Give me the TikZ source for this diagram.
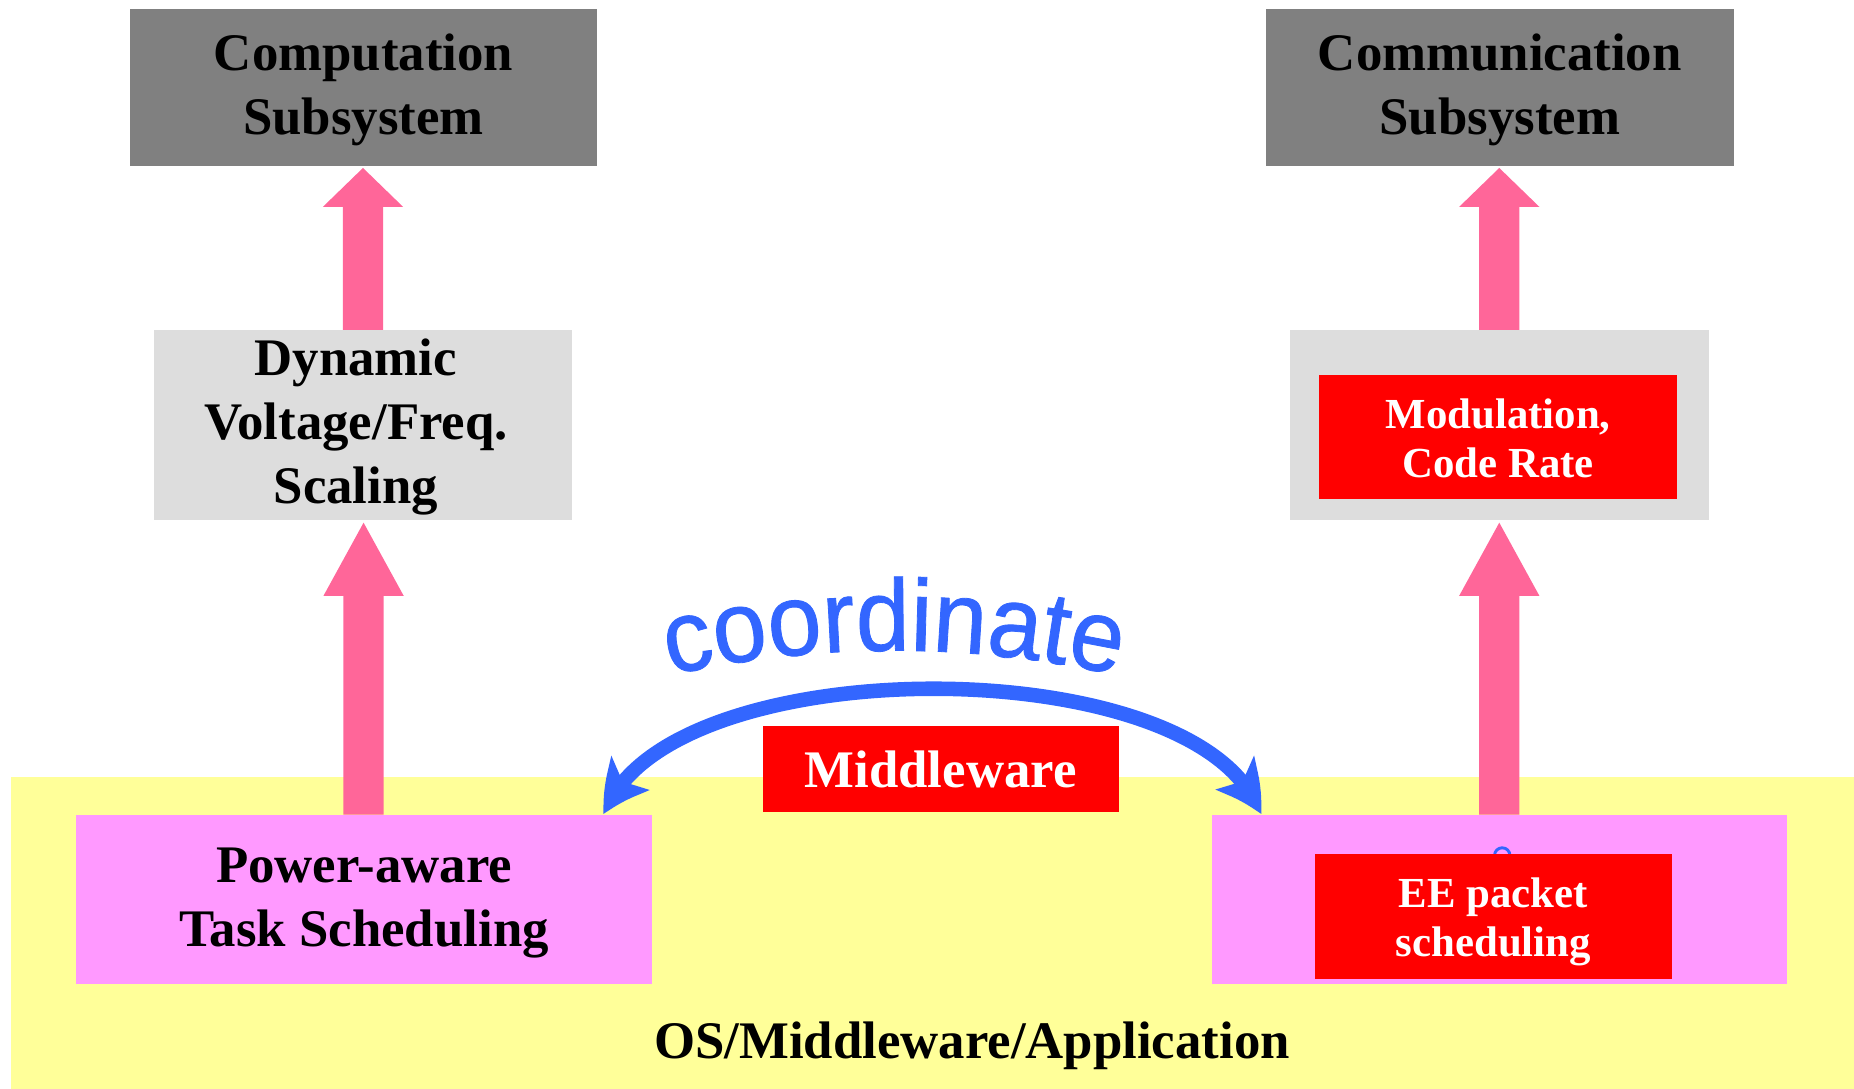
\documentclass[tikz,border=0pt]{standalone}
\usepackage{fontspec}
\setmainfont{Liberation Serif}
\newfontfamily\arialfont[FakeStretch=0.95,FakeBold=0.8]{Liberation Sans}
\usetikzlibrary{arrows.meta,calc,decorations.text,bending}
\definecolor{arrowpink}{RGB}{255,102,153}
\definecolor{dkgray}{RGB}{128,128,128}
\definecolor{ltgray}{RGB}{221,221,221}
\definecolor{yellowbg}{RGB}{255,255,153}
\definecolor{pinkbox}{RGB}{255,153,255}
\definecolor{redbox}{RGB}{255,0,0}
\definecolor{cblue}{RGB}{51,102,255}
\newcommand\mainfnt{\fontsize{12.7}{15.4}\selectfont\bfseries}
\newcommand\smallfnt{\fontsize{10.3}{11.8}\selectfont\bfseries}
\newcommand\pinkup[3]{%
  \fill[arrowfill] ($(#1.north)+(-17,0)$) -- ($(#1.north |- #2.south)+(-17,#3+2)$)
    -- ($(#1.north |- #2.south)+(-34,#3+2)$) -- ($(#1.north |- #2.south)+(0,2)$)
    -- ($(#1.north |- #2.south)+(34,#3+2)$) -- ($(#1.north |- #2.south)+(17,#3+2)$)
    -- ($(#1.north)+(17,0)$) -- cycle;}
\tikzset{
  boxbase/.style={inner sep=0pt, outer sep=0pt, align=center},
  graybox/.style={boxbase, fill=dkgray, minimum width=3.95cm, minimum height=1.32cm, font=\mainfnt},
  lightbox/.style={boxbase, fill=ltgray, minimum width=3.54cm, minimum height=1.61cm, font=\mainfnt},
  pinkrect/.style={boxbase, fill=pinkbox, minimum height=1.43cm, font=\mainfnt},
  redrect/.style={boxbase, fill=redbox, text=white, font=\smallfnt},
  arrowfill/.style={fill=arrowpink},
  bluearrow/.style={draw=cblue, line width=3.5pt,
    {Stealth[length=11.5pt,width=12pt,inset=2.5pt,bend]}-{Stealth[length=11.5pt,width=12pt,inset=2.5pt,bend]}}
}
\begin{document}
\begin{tikzpicture}[x=0.01cm,y=-0.01cm]
\useasboundingbox (0,0) rectangle (1568,921);
% background layer
\node[boxbase, fill=yellowbg, minimum width=15.58cm, minimum height=2.64cm] (os) at (789,789) {};
\node[anchor=base, font=\mainfnt] (ostext) at (822,895) {OS/Middleware/Application};
% top boxes
\node[graybox] (comp) at (307.5,74) {};
\node[font=\mainfnt, align=center, inner sep=0pt] (comptext) at (307.5,76) {Computation\\Subsystem};
\node[graybox] (comm) at (1268.5,74) {};
\node[font=\mainfnt, align=center, inner sep=0pt] (commtext) at (1268.5,76) {Communication\\Subsystem};
% middle boxes
\node[lightbox] (dvfs) at (307,359.5) {};
\node[font=\mainfnt, align=center, inner sep=0pt] (dvfstext) at (301,361) {Dynamic\\Voltage/Freq.\\Scaling};
\node[lightbox] (modbox) at (1268,359.5) {};
\node[redrect, minimum width=3.02cm, minimum height=1.05cm] (mod) at (1267,369.5) {};
\node[font=\smallfnt, text=white, align=center, inner sep=0pt] (modtext) at (1267,371) {Modulation,\\Code Rate};
% bottom boxes
\node[pinkrect, minimum width=4.87cm] (pat) at (307.5,760.5) {};
\node[font=\mainfnt, align=center, inner sep=0pt] (pattext) at (308,764) {Power-aware\\Task Scheduling};
\node[pinkrect, minimum width=4.86cm] (eebox) at (1268,760.5) {};
\draw[cblue, line width=0.7pt] (1270.5,723.5) circle[radius=6.5];
\node[redrect, minimum width=3.02cm, minimum height=1.06cm] (ee) at (1263,775) {};
\node[font=\smallfnt, text=white, align=center, inner sep=0pt] (eetext) at (1263,780) {EE packet\\scheduling};
\node[redrect, minimum width=3.01cm, minimum height=0.73cm, font=\mainfnt] (mw) at (795.5,650.5) {Middleware};
% pink block arrows
\pinkup{pat}{dvfs}{62}
\pinkup{dvfs}{comp}{33}
\pinkup{eebox}{modbox}{62}
\pinkup{modbox}{comm}{33}
% coordinate arrow
\coordinate (ltip) at ($(pat.north east)+(-40,0)$);
\coordinate (rtip) at ($(eebox.north west)+(41,0)$);
\draw[bluearrow] (ltip) .. controls (560,547) and (1020,547) .. (rtip);
\path[decorate, decoration={text along path, text align=center,
  text={|\arialfont\fontsize{24.5}{29}\selectfont\color{cblue}|coordinate}}]
  (562,572) .. controls (690,543) and (820,543) .. (950,572);
\end{tikzpicture}
\end{document}
